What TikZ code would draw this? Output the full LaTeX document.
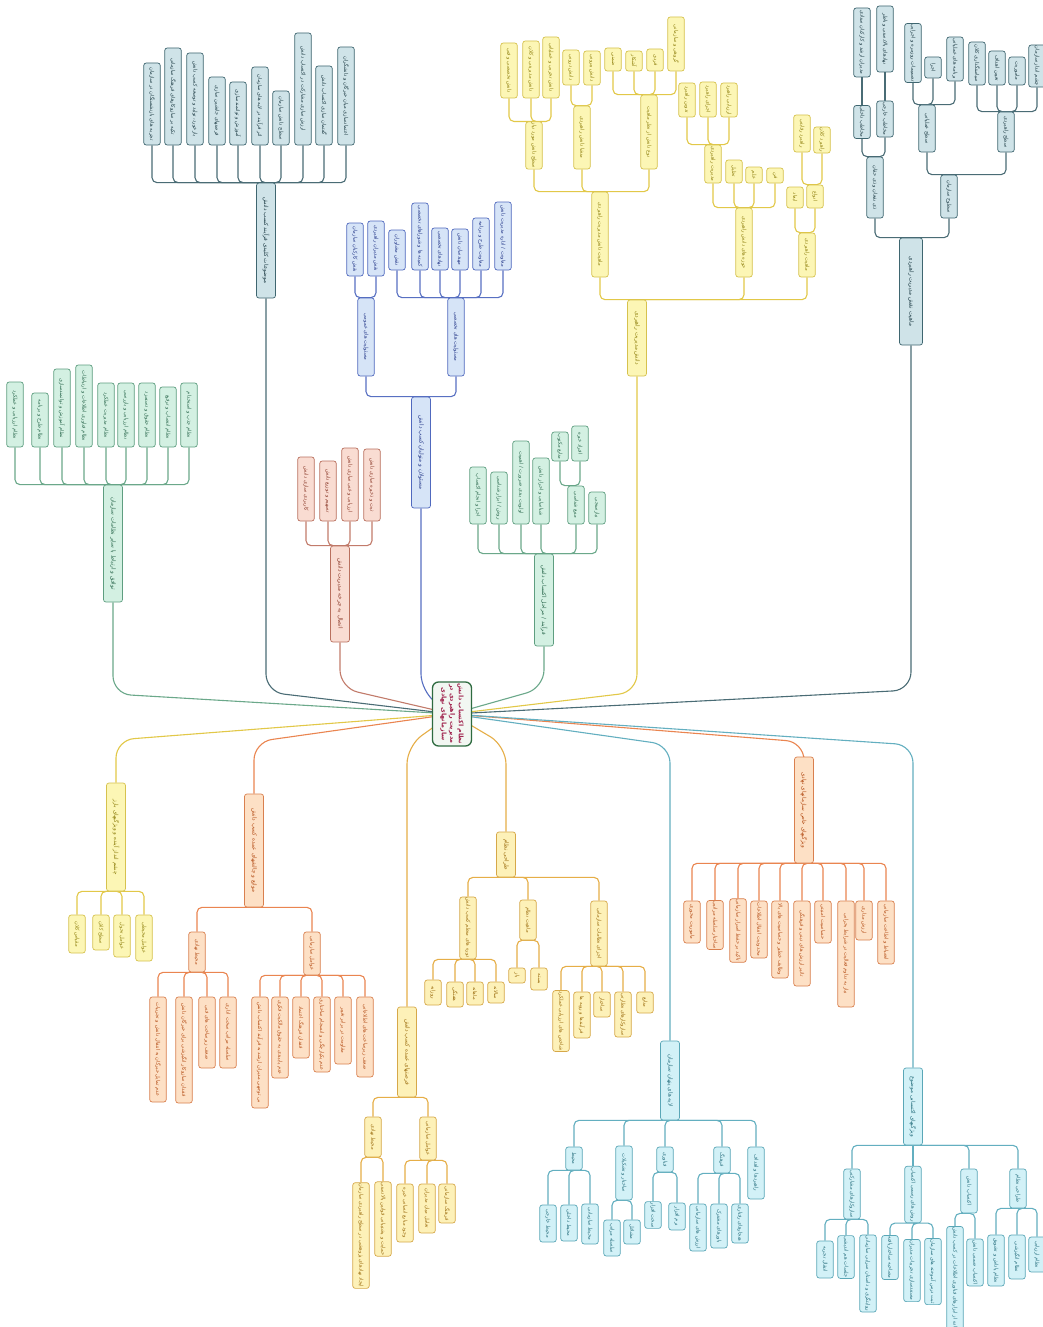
\documentclass[tikz,border=0pt]{standalone}
\usepackage{fontspec}
\newfontfamily\fa[Script=Arabic]{DejaVu Sans}
\TeXXeTstate=1
\pgfdeclarelayer{bg}
\pgfsetlayers{bg,main}
\definecolor{grnF}{HTML}{D3F0E2}\definecolor{grnD}{HTML}{5E9E80}\definecolor{grnT}{HTML}{2D6A4F}\definecolor{grnC}{HTML}{6BA88A}
\definecolor{tealF}{HTML}{CFE3E8}\definecolor{tealD}{HTML}{3F6670}\definecolor{tealT}{HTML}{1E3C45}\definecolor{tealC}{HTML}{4A6C75}
\definecolor{roseF}{HTML}{F9DCD2}\definecolor{roseD}{HTML}{B9705E}\definecolor{roseT}{HTML}{8B3A2A}\definecolor{roseC}{HTML}{C27B6B}
\definecolor{blueF}{HTML}{D6E4F7}\definecolor{blueD}{HTML}{5069BE}\definecolor{blueT}{HTML}{26398A}\definecolor{blueC}{HTML}{5870C2}
\definecolor{yelF}{HTML}{FCF6B5}\definecolor{yelD}{HTML}{D6C24E}\definecolor{yelT}{HTML}{8F800F}\definecolor{yelC}{HTML}{E2C848}
\definecolor{orF}{HTML}{FDE0C5}\definecolor{orD}{HTML}{D9804F}\definecolor{orT}{HTML}{B5501A}\definecolor{orC}{HTML}{EA8550}
\definecolor{goF}{HTML}{FDF1B8}\definecolor{goD}{HTML}{D6A849}\definecolor{goT}{HTML}{9C6D10}\definecolor{goC}{HTML}{E6AE47}
\definecolor{cyF}{HTML}{D2F1F7}\definecolor{cyD}{HTML}{5AA7B7}\definecolor{cyT}{HTML}{28707F}\definecolor{cyC}{HTML}{63AFC0}
\definecolor{rootF}{HTML}{F2F7F2}\definecolor{rootD}{HTML}{2E6B40}\definecolor{rootT}{HTML}{A0244E}
\tikzset{
 box/.style={rotate=-90, rounded corners=2.5pt, line width=0.7pt, inner sep=1pt, minimum height=16.5pt, font=\fa\fontsize{5.1}{6}\selectfont},
 lvl/.style={minimum height=19pt, font=\fa\fontsize{5.7}{6.5}\selectfont},
 grn/.style={box, fill=grnF, draw=grnD, text=grnT},
 teal/.style={box, fill=tealF, draw=tealD, text=tealT},
 rose/.style={box, fill=roseF, draw=roseD, text=roseT},
 blu/.style={box, fill=blueF, draw=blueD, text=blueT},
 yel/.style={box, fill=yelF, draw=yelD, text=yelT},
 org/.style={box, fill=orF, draw=orD, text=orT},
 gold/.style={box, fill=goF, draw=goD, text=goT},
 cyan/.style={box, fill=cyF, draw=cyD, text=cyT},
 conn/.style={line width=1.1pt, rounded corners=5pt},
 cgrn/.style={conn, draw=grnC}, cteal/.style={conn, draw=tealC}, crose/.style={conn, draw=roseC},
 cblu/.style={conn, draw=blueC}, cyel/.style={conn, draw=yelC}, corg/.style={conn, draw=orC},
 cgold/.style={conn, draw=goC}, ccyan/.style={conn, draw=cyC},
 main/.style={rounded corners=18pt}
}
\newcommand\mn[6]{\node[#2, minimum width={(#5-#4)*1pt}] (#1) at (#3,{(#4+#5)/2}) {#6};}
\begin{document}
\begin{tikzpicture}[x=1pt,y=-1pt]
\begin{pgfonlayer}{bg}
\fill[white] (0,0) rectangle (1043,1327);
\end{pgfonlayer}
\useasboundingbox (0,0) rectangle (1043,1327);
% root
\node[rotate=-90, fill=rootF, draw=rootD, line width=1.3pt, rounded corners=6pt, minimum width=64pt, minimum height=39pt, inner sep=1pt, align=center, text=rootT, font=\fa\bfseries\fontsize{6.3}{8.5}\selectfont] (root) at (452,714)
 {\beginR نظام اکتساب دانش\endR\\\beginR مدیریت راهبردی در\endR\\\beginR سازمانهای نهادی\endR};
% ===== A green
\mn{A}{grn,lvl}{113}{485}{602}{\beginR توافق و ارتباط با سایر نظامات سازمان\endR}
\mn{A1}{grn}{15}{382}{447}{\beginR نظام ارزیابی و عملکرد\endR}
\mn{A2}{grn}{40}{393}{447}{\beginR نظام طرح و برنامه\endR}
\mn{A3}{grn}{62}{369}{447}{\beginR نظام آموزش و توانمندسازی\endR}
\mn{A4}{grn}{84}{365}{447}{\beginR نظام فناوری اطلاعات و ارتباطات\endR}
\mn{A5}{grn}{106}{383}{447}{\beginR نظام مدیریت عملکرد\endR}
\mn{A6}{grn}{126}{383}{447}{\beginR نظام ارزیابی و بازرسی\endR}
\mn{A7}{grn}{147}{383}{447}{\beginR نظام حقوق و دستمزد\endR}
\mn{A8}{grn}{168}{387}{447}{\beginR نظام انتصاب و ترفیع\endR}
\mn{A9}{grn}{189}{383}{447}{\beginR نظام جذب و استخدام\endR}
% ===== B teal
\mn{B}{teal,lvl}{266}{183}{298}{\beginR موضوعات کلیدی فرآیند کسب دانش\endR}
\mn{B1}{teal}{152}{63}{145}{\beginR تجربه های بازنشستگان در سازمان\endR}
\mn{B2}{teal}{173}{48}{145}{\beginR تکیه بر سازوکارهای فرهنگ سازمانی\endR}
\mn{B3}{teal}{195}{53}{145}{\beginR بازخورد، تولید و توسعه کسب دانش\endR}
\mn{B4}{teal}{217}{77}{145}{\beginR فرصتهای جانشین سازی\endR}
\mn{B5}{teal}{238}{82}{145}{\beginR آموزش و توانمندسازی\endR}
\mn{B6}{teal}{260}{67}{145}{\beginR اثر فرآیند در لایه های سازمان\endR}
\mn{B7}{teal}{281}{91}{145}{\beginR سطح دانش سازمان\endR}
\mn{B8}{teal}{303}{33}{145}{\beginR ارزش سازی مشارکت در اکتساب دانش\endR}
\mn{B9}{teal}{324}{66}{145}{\beginR گفتمان سازی اکتساب دانش\endR}
\mn{B10}{teal}{346}{47}{145}{\beginR اعتمادسازی میان خبرگان و دانشگران\endR}
% ===== C rose
\mn{C}{rose,lvl}{340}{546}{642}{\beginR اتصال به چرخه مدیریت دانش\endR}
\mn{C1}{rose}{306}{457}{521}{\beginR کاربردی سازی دانش\endR}
\mn{C2}{rose}{328}{461}{521}{\beginR تسهیم و توزیع دانش\endR}
\mn{C3}{rose}{350}{448}{521}{\beginR ارزیابی و غنی سازی دانش\endR}
\mn{C4}{rose}{372}{449}{521}{\beginR ثبت و ذخیره سازی دانش\endR}
% ===== D blue
\mn{D}{blu,lvl}{421}{397}{508}{\beginR مسئولان و متولیان کسب دانش\endR}
\mn{D1}{blu}{366}{298}{376}{\beginR مسئولیت های عمومی\endR}
\mn{D2}{blu}{456}{298}{376}{\beginR مسئولیت های تخصصی\endR}
\mn{D1a}{blu}{355}{223}{276}{\beginR نقش کارکنان سازمان\endR}
\mn{D1b}{blu}{376}{221}{276}{\beginR نقش مدیران راهبردی\endR}
\mn{D2a}{blu}{397}{230}{270}{\beginR نقش مشاوران\endR}
\mn{D2b}{blu}{420}{203}{270}{\beginR کمیته ها و شوراهای تخصصی\endR}
\mn{D2c}{blu}{440}{228}{270}{\beginR نهادهای تخصصی\endR}
\mn{D2d}{blu}{460}{229}{270}{\beginR مهندسان دانش\endR}
\mn{D2e}{blu}{481}{218}{270}{\beginR معاونت طرح و برنامه\endR}
\mn{D2f}{blu}{503}{202}{270}{\beginR معاونت / اداره مدیریت دانش\endR}
% ===== E green
\mn{E}{grn,lvl}{544}{554}{646}{\beginR فرآیند / مراحل اکتساب دانش\endR}
\mn{E1}{grn}{478}{467}{524}{\beginR اجرا و انجام اکتساب\endR}
\mn{E2}{grn}{499}{472}{524}{\beginR روش / ابزار شناسی\endR}
\mn{E3}{grn}{521}{441}{524}{\beginR اولویت بندی ضرورت / اهمیت\endR}
\mn{E4}{grn}{541}{458}{524}{\beginR شناسایی و احراز دانش\endR}
\mn{E5}{grn}{576}{486}{524}{\beginR منبع شناسی\endR}
\mn{E6}{grn}{597}{492}{524}{\beginR نیازسنجی\endR}
\mn{E5a}{grn}{560}{432}{461}{\beginR منابع مکتوب\endR}
\mn{E5b}{grn}{580}{426}{461}{\beginR افراد خبره\endR}
% ===== F yellow
\mn{F}{yel,lvl}{637}{300}{376}{\beginR دانش مدیریت راهبردی\endR}
\mn{F1}{yel}{600}{192}{277}{\beginR ماهیت دانش مدیریت راهبردی\endR}
\mn{F1a}{yel}{534}{122}{169}{\beginR سطح دانش مورد نیاز\endR}
\mn{F1a1}{yel}{509}{43}{98}{\beginR دانش تخصصی و فنی\endR}
\mn{F1a2}{yel}{531}{41}{98}{\beginR دانش مدیریتی و کلان\endR}
\mn{F1a3}{yel}{551}{37}{98}{\beginR دانش تجربی و عملیاتی\endR}
\mn{F1b}{yel}{582}{106}{169}{\beginR منشا دانش راهبردی\endR}
\mn{F1b1}{yel}{571}{50}{85}{\beginR دانش درونی\endR}
\mn{F1b2}{yel}{592}{51}{85}{\beginR دانش بیرونی\endR}
\mn{F1c}{yel}{649}{95}{169}{\beginR نوع دانش از نظر ماهیت\endR}
\mn{F1c1}{yel}{613}{48}{71}{\beginR ضمنی\endR}
\mn{F1c2}{yel}{634}{51}{71}{\beginR آشکار\endR}
\mn{F1c3}{yel}{655}{49}{71}{\beginR فردی\endR}
\mn{F1c4}{yel}{676}{17}{71}{\beginR گروهی و سازمانی\endR}
\mn{F2}{yel}{744}{208}{277}{\beginR حوزه های دانش راهبردی\endR}
\mn{F2a}{yel}{713}{145}{183}{\beginR مدیریت راهبردی\endR}
\mn{F2a1}{yel}{687}{83}{117}{\beginR تدوین راهبرد\endR}
\mn{F2a2}{yel}{708}{82}{117}{\beginR اجرای راهبرد\endR}
\mn{F2a3}{yel}{729}{83}{117}{\beginR ارزیابی راهبرد\endR}
\mn{F2b}{yel}{734}{160}{183}{\beginR تحلیل\endR}
\mn{F2c}{yel}{754}{167}{183}{\beginR علم\endR}
\mn{F2d}{yel}{775}{168}{183}{\beginR فن\endR}
\mn{F3}{yel}{807}{233}{277}{\beginR ماهیت راهبردی\endR}
\mn{F3a}{yel}{795}{187}{208}{\beginR ابعاد\endR}
\mn{F3b}{yel}{815}{185}{208}{\beginR انواع\endR}
\mn{F3b1}{yel}{802}{115}{152}{\beginR راهبرد رقابتی\endR}
\mn{F3b2}{yel}{822}{128}{152}{\beginR راهبرد کلان\endR}
% ===== G teal
\mn{G}{teal,lvl,minimum height=23pt}{911}{238}{345}{\beginR ماهیت نقش مدیریت راهبردی\endR}
\mn{G1}{teal}{875}{157}{218}{\beginR ذی نفعان و ذی حقان\endR}
\mn{G1a}{teal}{862}{107}{137}{\beginR مخاطب داخلی\endR}
\mn{G1a1}{teal}{862}{8}{77}{\beginR مدیران ارشد و کارکنان ستادی\endR}
\mn{G1b}{teal}{885}{101}{137}{\beginR مخاطب خارجی\endR}
\mn{G1b1}{teal}{885}{6}{72}{\beginR نهادهای بالادستی و ناظر\endR}
\mn{G2}{teal}{949}{175}{218}{\beginR سطوح سازمان\endR}
\mn{G2a}{teal}{927}{105}{152}{\beginR سطح عملیاتی\endR}
\mn{G2a1}{teal}{913}{25}{81}{\beginR تصمیمات روزمره و اجرایی\endR}
\mn{G2a2}{teal}{933}{57}{78}{\beginR اجرا\endR}
\mn{G2a3}{teal}{955}{37}{81}{\beginR برنامه های عملیاتی\endR}
\mn{G2b}{teal}{1006}{112}{152}{\beginR سطح راهبردی\endR}
\mn{G2b1}{teal}{977}{42}{85}{\beginR سیاستگذاری کلان\endR}
\mn{G2b2}{teal}{997}{51}{85}{\beginR تعیین اهداف\endR}
\mn{G2b3}{teal}{1017}{57}{85}{\beginR ماموریت\endR}
\mn{G2b4}{teal}{1037}{47}{85}{\beginR چشم انداز سازمان\endR}
% ===== H yellow
\mn{H}{yel,lvl}{116}{783}{891}{\beginR چشم انداز آینده و ویژگیهای بارز\endR}
\mn{H1}{yel}{77}{915}{953}{\beginR مقیاس کلان\endR}
\mn{H2}{yel}{101}{915}{950}{\beginR سطح کلان\endR}
\mn{H3}{yel}{122}{915}{957}{\beginR عوامل تحول\endR}
\mn{H4}{yel}{144}{915}{961}{\beginR عوامل محیطی\endR}
% ===== I orange
\mn{I}{org,lvl}{254}{794}{907}{\beginR موانع و چالشهای عمده کسب دانش\endR}
\mn{I1}{org}{197}{932}{972}{\beginR محیط نهادی\endR}
\mn{I2}{org}{312}{932}{975}{\beginR عوامل سازمانی\endR}
\mn{I1a}{org}{158}{997}{1102}{\beginR عدم تمایل خبرگان به انتقال دانش و تجربیات\endR}
\mn{I1b}{org}{184}{997}{1103}{\beginR فقدان سازوکار انگیزشی برای خبرگان دانش\endR}
\mn{I1c}{org}{207}{997}{1068}{\beginR ضعف زیرساخت های فنی\endR}
\mn{I1d}{org}{228}{997}{1068}{\beginR سلسله مراتب سخت اداری\endR}
\mn{I2a}{org}{260}{997}{1108}{\beginR بی توجهی مدیران ارشد به فرآیند اکتساب دانش\endR}
\mn{I2b}{org}{280}{997}{1078}{\beginR عدم پایبندی به حقوق مالکیت فکری\endR}
\mn{I2c}{org}{301}{997}{1058}{\beginR فقدان فرهنگ اعتماد\endR}
\mn{I2d}{org}{322}{997}{1072}{\beginR عدم یکپارچگی و انسجام ساختاری\endR}
\mn{I2e}{org}{343}{997}{1064}{\beginR مقاومت در برابر تغییر\endR}
\mn{I2f}{org}{365}{997}{1077}{\beginR ضعف زیرساخت های اطلاعاتی\endR}
% ===== J gold
\mn{J}{gold,lvl}{407}{1007}{1097}{\beginR فرصتهای عمده کسب دانش\endR}
\mn{J1}{gold}{373}{1117}{1157}{\beginR محیط نهادی\endR}
\mn{J2}{gold}{428}{1117}{1160}{\beginR عوامل سازمانی\endR}
\mn{J1a}{gold}{361}{1184}{1287}{\beginR ایجاد نهادهای پژوهشی در سطح راهبردی سازمان\endR}
\mn{J1b}{gold}{383}{1184}{1254}{\beginR حمایت و پشتیبانی قوانین بالادستی\endR}
\mn{J2a}{gold}{405}{1184}{1242}{\beginR وجود منابع انسانی خبره\endR}
\mn{J2b}{gold}{427}{1184}{1233}{\beginR تعامل میان مدیران\endR}
\mn{J2c}{gold}{447}{1184}{1223}{\beginR فرهنگ سازمانی\endR}
% ===== K gold
\mn{K}{gold,lvl}{506}{832}{877}{\beginR طراحی نظام\endR}
\mn{K1}{gold}{468}{900}{956}{\beginR دوره های منظم کسب دانش\endR}
\mn{K2}{gold}{528}{900}{940}{\beginR ماهیت نظام\endR}
\mn{K3}{gold}{599}{901}{966}{\beginR اجزای نظامات سازمانی\endR}
\mn{K1a}{gold}{433}{980}{1005}{\beginR روزانه\endR}
\mn{K1b}{gold}{455}{982}{1007}{\beginR هفتگی\endR}
\mn{K1c}{gold}{475}{982}{1005}{\beginR ماهانه\endR}
\mn{K1d}{gold}{496}{982}{1003}{\beginR سالانه\endR}
\mn{K2a}{gold}{517}{968}{983}{\beginR باز\endR}
\mn{K2b}{gold}{539}{968}{990}{\beginR بسته\endR}
\mn{K3a}{gold}{561}{992}{1050}{\beginR شاخص های ارزیابی عملکرد\endR}
\mn{K3b}{gold}{582}{992}{1038}{\beginR فرآیندها و رویه ها\endR}
\mn{K3c}{gold}{602}{992}{1017}{\beginR ساختار\endR}
\mn{K3d}{gold}{623}{992}{1037}{\beginR سازوکارهای نظارتی\endR}
\mn{K3e}{gold}{645}{992}{1013}{\beginR منابع\endR}
% ===== L cyan
\mn{L}{cyan,lvl}{670}{1041}{1120}{\beginR لایه های پنهان سازمان\endR}
\mn{L1}{cyan}{574}{1147}{1170}{\beginR محیط\endR}
\mn{L2}{cyan}{624}{1146}{1200}{\beginR ساختار و تشکیلات\endR}
\mn{L3}{cyan}{665}{1147}{1172}{\beginR فناوری\endR}
\mn{L4}{cyan}{722}{1147}{1173}{\beginR فرهنگ\endR}
\mn{L5}{cyan}{756}{1147}{1199}{\beginR راهبردها و اهداف\endR}
\mn{L1a}{cyan}{548}{1205}{1242}{\beginR محیط خارجی\endR}
\mn{L1b}{cyan}{569}{1205}{1241}{\beginR محیط داخلی\endR}
\mn{L1c}{cyan}{590}{1204}{1244}{\beginR محیط سازمانی\endR}
\mn{L2a}{cyan}{612}{1220}{1256}{\beginR سلسله مراتب\endR}
\mn{L2b}{cyan}{632}{1220}{1244}{\beginR مشاغل\endR}
\mn{L3a}{cyan}{653}{1203}{1227}{\beginR سخت افزار\endR}
\mn{L3b}{cyan}{677}{1203}{1230}{\beginR نرم افزار\endR}
\mn{L4a}{cyan}{698}{1204}{1251}{\beginR ارزش های سازمانی\endR}
\mn{L4b}{cyan}{719}{1204}{1248}{\beginR باورهای مشترک\endR}
\mn{L4c}{cyan}{740}{1204}{1243}{\beginR هنجارهای رفتاری\endR}
% ===== M orange
\mn{M}{org,lvl}{804}{757}{863}{\beginR ویژگیهای خاص سازمانهای نهادی\endR}
\mn{M1}{org}{692}{901}{943}{\beginR ماموریت محوری\endR}
\mn{M2}{org}{715}{901}{949}{\beginR ساختار سلسله مراتبی\endR}
\mn{M3}{org}{738}{901}{960}{\beginR تاکید بر حفظ اسرار سازمانی\endR}
\mn{M4}{org}{759}{901}{958}{\beginR محدودیت انتقال اطلاعات\endR}
\mn{M5}{org}{780}{901}{978}{\beginR وظایف خطیر و حساسیت های بالا\endR}
\mn{M6}{org}{802}{901}{986}{\beginR تاثیر ارزش های دینی و فرهنگی\endR}
\mn{M7}{org}{823}{901}{943}{\beginR حساسیت امنیتی\endR}
\mn{M8}{org}{846}{901}{1007}{\beginR نیاز به تداوم فعالیت در شرایط بحرانی\endR}
\mn{M9}{org}{864}{901}{940}{\beginR ارزش مداری\endR}
\mn{M10}{org}{886}{901}{964}{\beginR انضباط و اطاعت سازمانی\endR}
% ===== N cyan
\mn{N}{cyan,lvl}{913}{1068}{1145}{\beginR ویژگیهای اکتسابی موضوع\endR}
\mn{N1}{cyan}{852}{1169}{1219}{\beginR سازوکارهای مشارکتی\endR}
\mn{N2}{cyan}{913}{1169}{1220}{\beginR روش های رسمی اکتساب\endR}
\mn{N3}{cyan}{969}{1169}{1213}{\beginR اکتساب دانش\endR}
\mn{N4}{cyan}{1018}{1169}{1208}{\beginR طراحی نظام\endR}
\mn{N1a}{cyan}{825}{1241}{1278}{\beginR انتقال تجربه\endR}
\mn{N1b}{cyan}{846}{1241}{1273}{\beginR جلسات هم اندیشی\endR}
\mn{N1c}{cyan}{868}{1241}{1306}{\beginR روایتگری و داستان سرایی سازمانی\endR}
\mn{N2a}{cyan}{890}{1241}{1274}{\beginR مصاحبه ساختاریافته\endR}
\mn{N2b}{cyan}{912}{1241}{1300}{\beginR مستندسازی تجربیات مدیران\endR}
\mn{N2c}{cyan}{933}{1241}{1302}{\beginR ثبت درس آموخته های سازمان\endR}
\mn{N3a}{cyan}{955}{1238}{1327}{\beginR استفاده از ابزارهای فناوری اطلاعات در کسب دانش\endR}
\mn{N3b}{cyan}{975}{1239}{1286}{\beginR اکتساب ضمنی دانش\endR}
\mn{N4a}{cyan}{996}{1235}{1286}{\beginR نظام پاداش و تشویق\endR}
\mn{N4b}{cyan}{1017}{1235}{1279}{\beginR نظام انگیزشی\endR}
\mn{N4c}{cyan}{1037}{1237}{1272}{\beginR نظام ارزیابی\endR}
% ===== connectors
\begin{pgfonlayer}{bg}
\draw[cgrn,main] (root.center) -- (113,694) -- (A.east);
\draw[cteal,main] (root.center) -- (266,692) -- (B.east);
\draw[crose,main] (root.center) -- (340,688) -- (C.east);
\draw[cblu,main] (root.center) -- (421,692) -- (D.east);
\draw[cgrn,main] (root.center) -- (544,688) -- (E.east);
\draw[cyel,main] (root.center) -- (637,692) -- (F.east);
\draw[cteal,main] (root.center) -- (911,690) -- (G.east);
\draw[cyel,main] (root.center) -- (116,740) -- (H.west);
\draw[corg,main] (root.center) -- (254,742) -- (I.west);
\draw[cgold,main] (root.center) -- (407,746) -- (J.west);
\draw[cgold,main] (root.center) -- (506,746) -- (K.west);
\draw[ccyan,main] (root.center) -- (670,745) -- (L.west);
\draw[corg,main] (root.center) -- (804,742) -- (M.west);
\draw[ccyan,main] (root.center) -- (913,745) -- (N.west);
% up branches
\foreach \c in {A1,A2,A3,A4,A5,A6,A7,A8,A9} \draw[cgrn] (A.west) -| (\c.east);
\foreach \c in {B1,B2,B3,B4,B5,B6,B7,B8,B9,B10} \draw[cteal] (B.west) -| (\c.east);
\foreach \c in {C1,C2,C3,C4} \draw[crose] (C.west) -| (\c.east);
\foreach \c in {D1,D2} \draw[cblu] (D.west) -| (\c.east);
\foreach \c in {D1a,D1b} \draw[cblu] (D1.west) -| (\c.east);
\foreach \c in {D2a,D2b,D2c,D2d,D2e,D2f} \draw[cblu] (D2.west) -| (\c.east);
\foreach \c in {E1,E2,E3,E4,E5,E6} \draw[cgrn] (E.west) -| (\c.east);
\foreach \c in {E5a,E5b} \draw[cgrn] (E5.west) -| (\c.east);
\foreach \c in {F1,F2,F3} \draw[cyel] (F.west) -| (\c.east);
\foreach \c in {F1a,F1b,F1c} \draw[cyel] (F1.west) -| (\c.east);
\foreach \c in {F1a1,F1a2,F1a3} \draw[cyel] (F1a.west) -| (\c.east);
\foreach \c in {F1b1,F1b2} \draw[cyel] (F1b.west) -| (\c.east);
\foreach \c in {F1c1,F1c2,F1c3,F1c4} \draw[cyel] (F1c.west) -| (\c.east);
\foreach \c in {F2a,F2b,F2c,F2d} \draw[cyel] (F2.west) -| (\c.east);
\foreach \c in {F2a1,F2a2,F2a3} \draw[cyel] (F2a.west) -| (\c.east);
\foreach \c in {F3a,F3b} \draw[cyel] (F3.west) -| (\c.east);
\foreach \c in {F3b1,F3b2} \draw[cyel] (F3b.west) -| (\c.east);
\foreach \c in {G1,G2} \draw[cteal] (G.west) -| (\c.east);
\foreach \c in {G1a,G1b} \draw[cteal] (G1.west) -| (\c.east);
\draw[cteal] (G1a.west) -- (G1a1.east);
\draw[cteal] (G1b.west) -- (G1b1.east);
\foreach \c in {G2a,G2b} \draw[cteal] (G2.west) -| (\c.east);
\foreach \c in {G2a1,G2a2,G2a3} \draw[cteal] (G2a.west) -| (\c.east);
\foreach \c in {G2b1,G2b2,G2b3,G2b4} \draw[cteal] (G2b.west) -| (\c.east);
% down branches
\foreach \c in {H1,H2,H3,H4} \draw[cyel] (H.east) -| (\c.west);
\foreach \c in {I1,I2} \draw[corg] (I.east) -| (\c.west);
\foreach \c in {I1a,I1b,I1c,I1d} \draw[corg] (I1.east) -| (\c.west);
\foreach \c in {I2a,I2b,I2c,I2d,I2e,I2f} \draw[corg] (I2.east) -| (\c.west);
\foreach \c in {J1,J2} \draw[cgold] (J.east) -| (\c.west);
\foreach \c in {J1a,J1b} \draw[cgold] (J1.east) -| (\c.west);
\foreach \c in {J2a,J2b,J2c} \draw[cgold] (J2.east) -| (\c.west);
\foreach \c in {K1,K2,K3} \draw[cgold] (K.east) -| (\c.west);
\foreach \c in {K1a,K1b,K1c,K1d} \draw[cgold] (K1.east) -| (\c.west);
\foreach \c in {K2a,K2b} \draw[cgold] (K2.east) -| (\c.west);
\foreach \c in {K3a,K3b,K3c,K3d,K3e} \draw[cgold] (K3.east) -| (\c.west);
\foreach \c in {L1,L2,L3,L4,L5} \draw[ccyan] (L.east) -| (\c.west);
\foreach \c in {L1a,L1b,L1c} \draw[ccyan] (L1.east) -| (\c.west);
\foreach \c in {L2a,L2b} \draw[ccyan] (L2.east) -| (\c.west);
\foreach \c in {L3a,L3b} \draw[ccyan] (L3.east) -| (\c.west);
\foreach \c in {L4a,L4b,L4c} \draw[ccyan] (L4.east) -| (\c.west);
\foreach \c in {M1,M2,M3,M4,M5,M6,M7,M8,M9,M10} \draw[corg] (M.east) -| (\c.west);
\foreach \c in {N1,N2,N3,N4} \draw[ccyan] (N.east) -| (\c.west);
\foreach \c in {N1a,N1b,N1c} \draw[ccyan] (N1.east) -| (\c.west);
\foreach \c in {N2a,N2b,N2c} \draw[ccyan] (N2.east) -| (\c.west);
\foreach \c in {N3a,N3b} \draw[ccyan] (N3.east) -| (\c.west);
\foreach \c in {N4a,N4b,N4c} \draw[ccyan] (N4.east) -| (\c.west);
\end{pgfonlayer}
\end{tikzpicture}
\end{document}
